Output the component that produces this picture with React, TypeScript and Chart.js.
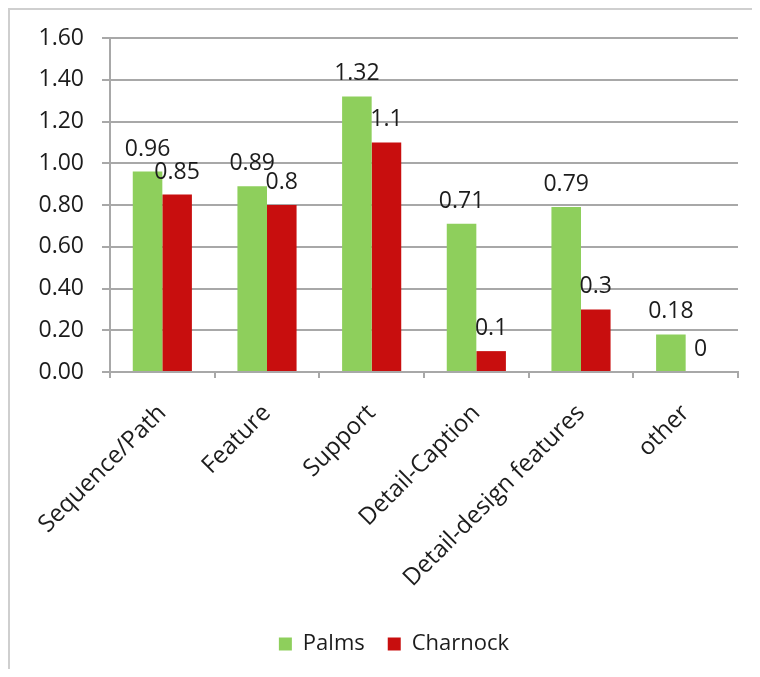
import React, { useEffect, useRef } from "react";
import { Chart, registerables } from "chart.js";

Chart.register(...registerables);

const categories = [
  "Sequence/Path",
  "Feature",
  "Support",
  "Detail-Caption",
  "Detail-design features",
  "other",
];
const palms = [0.96, 0.89, 1.32, 0.71, 0.79, 0.18];
const charnock = [0.85, 0.8, 1.1, 0.1, 0.3, 0];
const seriesNames = ["Palms", "Charnock"];

const GREEN = "#8ecf5c";
const RED = "#c80e0e";
const GRID = "#a8a8a8";
const TEXT = "#1c1c1c";
const FONT = "'Open Sans', 'DejaVu Sans', sans-serif";

// Writes each bar's value just above its top.
const valueLabels = {
  id: "valueLabels",
  afterDatasetsDraw(chart: any) {
    const ctx = chart.ctx;
    ctx.save();
    ctx.font = `23px ${FONT}`;
    ctx.fillStyle = TEXT;
    ctx.textAlign = "center";
    ctx.textBaseline = "alphabetic";
    chart.data.datasets.forEach((ds: any, i: number) => {
      const meta = chart.getDatasetMeta(i);
      meta.data.forEach((bar: any, j: number) => {
        ctx.fillText(String(ds.data[j]), bar.x, bar.y - 16);
      });
    });
    ctx.restore();
  },
};

// Lets the value axis box reach the canvas edge so its tick labels are not clipped,
// while the left layout padding keeps the legend centred where it should be.
const widenValueAxis = {
  id: "widenValueAxis",
  afterLayout(chart: any) {
    const y = chart.scales.y;
    if (y) y.left = 0;
  },
};

export default function App() {
  const canvasRef = useRef<HTMLCanvasElement | null>(null);

  useEffect(() => {
    document.documentElement.style.overflow = "hidden";
    document.body.style.overflow = "hidden";
    const canvas = canvasRef.current;
    if (!canvas) return;
    const chart = new Chart(canvas, {
      type: "bar",
      data: {
        labels: categories,
        datasets: [
          {
            label: seriesNames[0],
            data: palms,
            backgroundColor: GREEN,
            categoryPercentage: 0.565,
            barPercentage: 1,
          },
          {
            label: seriesNames[1],
            data: charnock,
            backgroundColor: RED,
            categoryPercentage: 0.565,
            barPercentage: 1,
          },
        ],
      },
      options: {
        responsive: false,
        animation: false,
        devicePixelRatio: 1,
        layout: { padding: { left: 40, right: 22, top: 28, bottom: 4 } },
        plugins: {
          legend: {
            position: "bottom",
            labels: {
              boxWidth: 13,
              boxHeight: 13,
              padding: 23,
              color: TEXT,
              font: { family: FONT, size: 22 },
            },
          },
          tooltip: { enabled: false },
        },
        scales: {
          x: {
            grid: {
              display: true,
              drawOnChartArea: false,
              drawTicks: true,
              tickLength: 6,
              offset: true,
              color: GRID,
              lineWidth: 2,
            },
            border: { display: true, color: GRID, width: 2 },
            ticks: {
              minRotation: 45,
              maxRotation: 45,
              autoSkip: false,
              padding: 21,
              color: TEXT,
              font: { family: FONT, size: 24 },
            },
            afterFit(scale: any) {
              scale.height = 238;
            },
          },
          y: {
            min: 0,
            max: 1.6,
            ticks: {
              stepSize: 0.2,
              padding: 18,
              color: TEXT,
              font: { family: FONT, size: 23 },
              callback: (v: any) => Number(v).toFixed(2),
            },
            grid: {
              color: GRID,
              lineWidth: 2,
              drawTicks: true,
              tickLength: 8,
            },
            border: { display: true, color: GRID, width: 2 },
            afterFit(scale: any) {
              scale.width = 60;
              scale.paddingTop = 0;
              scale.paddingBottom = 0;
            },
          },
        },
      },
      plugins: [valueLabels, widenValueAxis],
    });
    return () => chart.destroy();
  }, []);

  return (
    <div
      style={{
        width: 752,
        height: 661,
        boxSizing: "border-box",
        borderTop: "2px solid #cfcfcf",
        borderLeft: "2px solid #cfcfcf",
        overflow: "hidden",
      }}
    >
      <canvas
        ref={canvasRef}
        width={750}
        height={659}
        style={{ display: "block", width: 750, height: 659 }}
      />
    </div>
  );
}
